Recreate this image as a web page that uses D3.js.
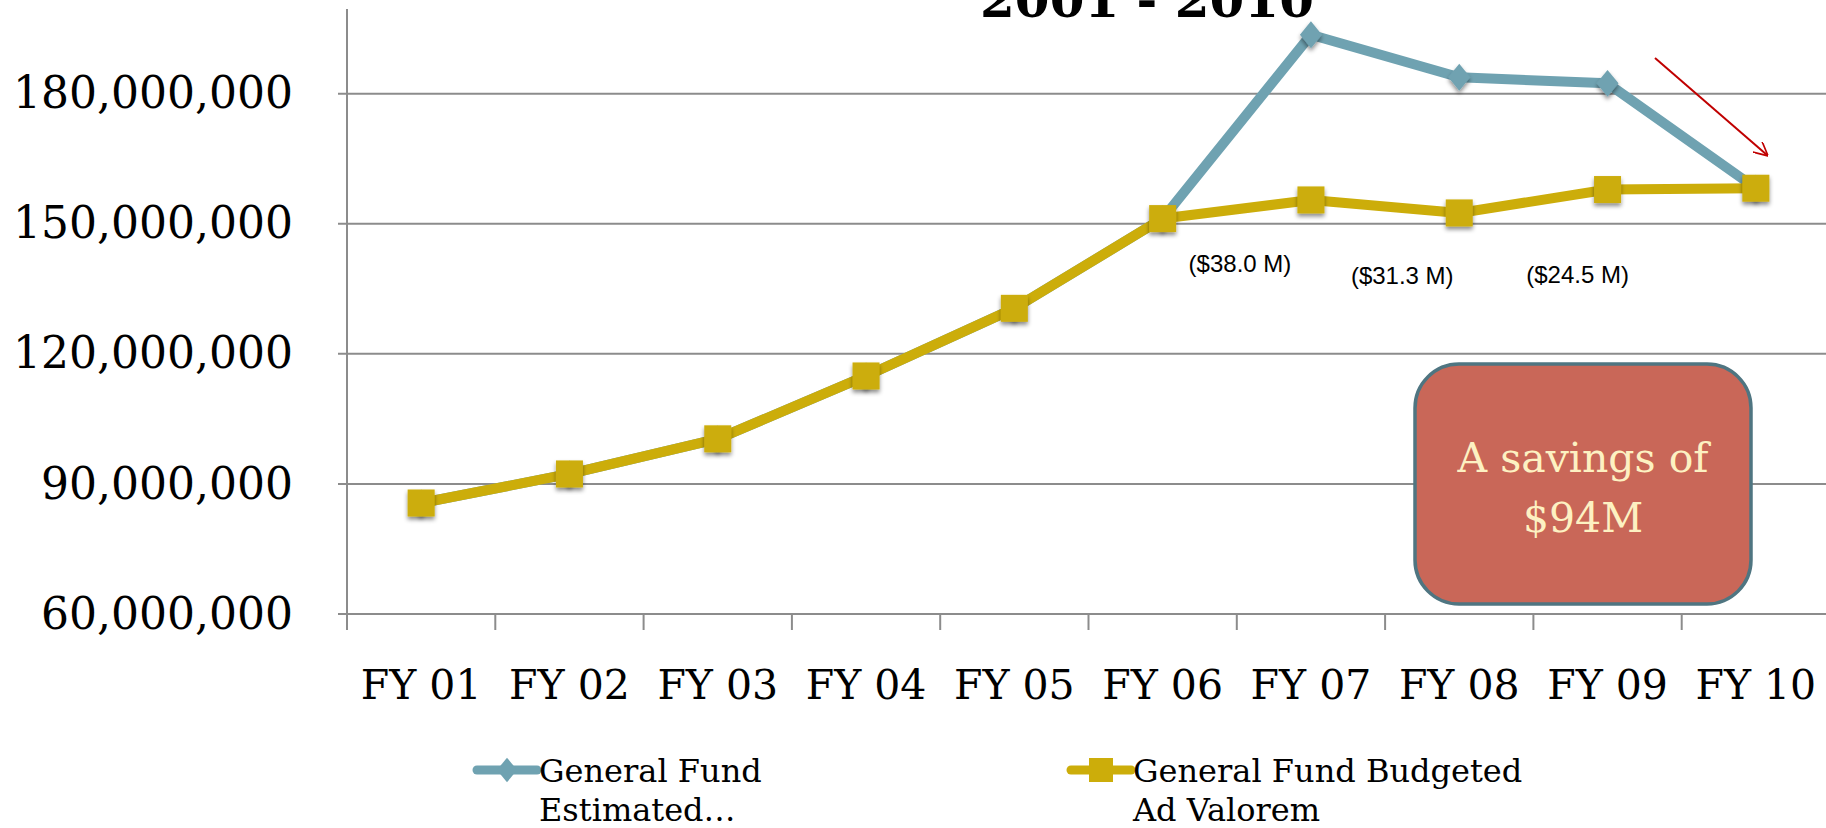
<!DOCTYPE html>
<html>
<head>
<meta charset="utf-8">
<script src="https://cdn.jsdelivr.net/npm/d3@7"></script>
<style>
  body { margin: 0; background: #fff; overflow: hidden; }
</style>
</head>
<body>
<div id="chart"></div>
<script>
(function () {

  // data
  const years = ['FY 01', 'FY 02', 'FY 03', 'FY 04', 'FY 05', 'FY 06', 'FY 07', 'FY 08', 'FY 09', 'FY 10']
  const estimated = [85600000, 92300000, 100400000, 114900000, 130500000, 151200000, 193600000, 183800000, 182400000, 158200000]
  const budgeted = [85600000, 92300000, 100400000, 114900000, 130500000, 151200000, 155500000, 152500000, 157900000, 158200000]
  const yTicks = [60000000, 90000000, 120000000, 150000000, 180000000]
  const gapYears = ['FY 07', 'FY 08', 'FY 09']
  const gapLabels = ['($38.0 M)', '($31.3 M)', '($24.5 M)']
  const seriesNames = [['General Fund', 'Estimated…'], ['General Fund Budgeted', 'Ad Valorem']]

  const blue = '#6fa2b1'
  const gold = '#ccad0a'
  const grid = '#8c8c8c'

  const width = 1826
  const height = 828

  // excel style diamond, wider than d3's
  const fatDiamond = {
    draw (context, size) {
      const h = Math.sqrt(size) * 0.6
      const w = h * 0.82
      context.moveTo(0, -h)
      context.lineTo(w, 0)
      context.lineTo(0, h)
      context.lineTo(-w, 0)
      context.closePath()
    }
  }

  const svg = d3.select('#chart').append('svg')
    .attr('width', width)
    .attr('height', height)

  const defs = svg.append('defs')
  const shadow = defs.append('filter').attr('id', 'shadow')
    .attr('x', '-50%').attr('y', '-50%').attr('width', '200%').attr('height', '200%')
  shadow.append('feDropShadow')
    .attr('dx', 0).attr('dy', 3).attr('stdDeviation', 2)
    .attr('flood-color', '#000').attr('flood-opacity', 0.45)

  const arrowHead = defs.append('marker').attr('id', 'arrow')
    .attr('viewBox', '0 0 10 10').attr('refX', 9).attr('refY', 5)
    .attr('markerWidth', 14).attr('markerHeight', 14).attr('orient', 'auto')
    .attr('markerUnits', 'userSpaceOnUse')
  arrowHead.append('path').attr('d', 'M0,0 L10,5 L0,10')
    .attr('fill', 'none').attr('stroke', '#c00000').attr('stroke-width', 1.2)

  const xPositionScale = d3.scaleBand()
    .domain(years)
    .range([347, 1830])

  const yPositionScale = d3.scaleLinear()
    .domain([60000000, 200000000])
    .range([614, 7])

  const cx = d => xPositionScale(d) + xPositionScale.bandwidth() / 2

  // gridlines
  svg.append('g')
    .selectAll('line')
    .data(yTicks)
    .join('line')
    .attr('x1', 338)
    .attr('x2', width)
    .attr('y1', d => yPositionScale(d))
    .attr('y2', d => yPositionScale(d))
    .attr('stroke', grid)
    .attr('stroke-width', 2)

  // y axis
  const yAxis = d3.axisLeft(yPositionScale)
    .tickValues(yTicks)
    .tickFormat(d3.format(','))
    .tickSize(0)
    .tickPadding(54)
  const yg = svg.append('g')
    .attr('class', 'axis y-axis')
    .attr('transform', 'translate(347,0)')
    .call(yAxis)
  yg.select('.domain').remove()
  yg.selectAll('text')
    .attr('font-family', 'DejaVu Serif')
    .attr('font-size', 44)
    .attr('fill', '#000')

  svg.append('line')
    .attr('x1', 347).attr('x2', 347)
    .attr('y1', 9).attr('y2', 630)
    .attr('stroke', grid).attr('stroke-width', 2)

  // x axis
  const xAxis = d3.axisBottom(xPositionScale).tickSize(0).tickPadding(0)
  const xg = svg.append('g')
    .attr('class', 'axis x-axis')
    .attr('transform', 'translate(0,' + yPositionScale(60000000) + ')')
    .call(xAxis)
  xg.select('.domain').remove()
  xg.selectAll('text')
    .attr('y', 85)
    .attr('dy', 0)
    .attr('font-family', 'DejaVu Serif')
    .attr('font-size', 41)
    .attr('fill', '#000')

  svg.append('g')
    .selectAll('line')
    .data(years)
    .join('line')
    .attr('x1', d => xPositionScale(d))
    .attr('x2', d => xPositionScale(d))
    .attr('y1', yPositionScale(60000000))
    .attr('y2', yPositionScale(60000000) + 16)
    .attr('stroke', grid)
    .attr('stroke-width', 2)

  // lines
  const line = d3.line()
    .x((d, i) => cx(years[i]))
    .y(d => yPositionScale(d))

  svg.append('path')
    .datum(estimated)
    .attr('d', line)
    .attr('fill', 'none')
    .attr('stroke', blue)
    .attr('stroke-width', 10)
    .attr('stroke-linejoin', 'round')

  svg.append('g')
    .selectAll('path')
    .data(estimated)
    .join('path')
    .attr('d', d3.symbol(fatDiamond, 500))
    .attr('transform', (d, i) => 'translate(' + cx(years[i]) + ',' + yPositionScale(d) + ')')
    .attr('fill', blue)
    .attr('filter', 'url(#shadow)')

  svg.append('path')
    .datum(budgeted)
    .attr('d', line)
    .attr('fill', 'none')
    .attr('stroke', gold)
    .attr('stroke-width', 10)
    .attr('stroke-linejoin', 'round')

  svg.append('g')
    .selectAll('path')
    .data(budgeted)
    .join('path')
    .attr('d', d3.symbol(d3.symbolSquare, 729))
    .attr('transform', (d, i) => 'translate(' + cx(years[i]) + ',' + yPositionScale(d) + ')')
    .attr('fill', gold)
    .attr('filter', 'url(#shadow)')

  // gap labels, nudged by hand like the slide
  const gapNudge = [[-71, 272], [-57, 284], [-30, 283]]
  svg.append('g')
    .selectAll('text')
    .data(gapLabels)
    .join('text')
    .attr('x', (d, i) => cx(gapYears[i]) + gapNudge[i][0])
    .attr('y', (d, i) => gapNudge[i][1])
    .attr('text-anchor', 'middle')
    .attr('font-family', 'Liberation Sans')
    .attr('font-size', 24)
    .text(d => d)

  // title, cut off at the top like the source slide
  svg.append('text')
    .attr('x', 1147)
    .attr('y', 17)
    .attr('text-anchor', 'middle')
    .attr('font-family', 'DejaVu Serif')
    .attr('font-weight', 'bold')
    .attr('font-size', 50)
    .text('2001 - 2010')

  // red arrow
  svg.append('line')
    .attr('x1', 1655).attr('y1', 58)
    .attr('x2', 1767).attr('y2', 155)
    .attr('stroke', '#c00000')
    .attr('stroke-width', 2)
    .attr('marker-end', 'url(#arrow)')

  // savings box
  svg.append('rect')
    .attr('x', 1415).attr('y', 364)
    .attr('width', 336).attr('height', 240)
    .attr('rx', 44).attr('ry', 44)
    .attr('fill', '#c96758')
    .attr('stroke', '#4f7581')
    .attr('stroke-width', 3.5)

  svg.append('text')
    .attr('text-anchor', 'middle')
    .attr('font-family', 'DejaVu Serif')
    .attr('font-size', 41)
    .attr('fill', '#fdf1c2')
    .selectAll('tspan')
    .data(['A savings of', '$94M'])
    .join('tspan')
    .attr('x', 1583)
    .attr('y', (d, i) => 472 + i * 60)
    .text(d => d)

  // legend
  const legendX = [477, 1071]
  const legend = svg.append('g')
  const items = legend.selectAll('g')
    .data(seriesNames)
    .join('g')
    .attr('transform', (d, i) => 'translate(' + legendX[i] + ',770)')

  items.append('line')
    .attr('x1', 0).attr('x2', 60)
    .attr('stroke', (d, i) => i === 0 ? blue : gold)
    .attr('stroke-width', 9)
    .attr('stroke-linecap', 'round')

  items.append('path')
    .attr('d', (d, i) => i === 0 ? d3.symbol(fatDiamond, 420)() : d3.symbol(d3.symbolSquare, 576)())
    .attr('transform', 'translate(30,0)')
    .attr('fill', (d, i) => i === 0 ? blue : gold)

  items.append('text')
    .attr('font-family', 'DejaVu Serif')
    .attr('font-size', 32)
    .selectAll('tspan')
    .data(d => d)
    .join('tspan')
    .attr('x', 62)
    .attr('y', (d, i) => 12 + i * 39)
    .text(d => d)

})();
</script>
</body>
</html>
